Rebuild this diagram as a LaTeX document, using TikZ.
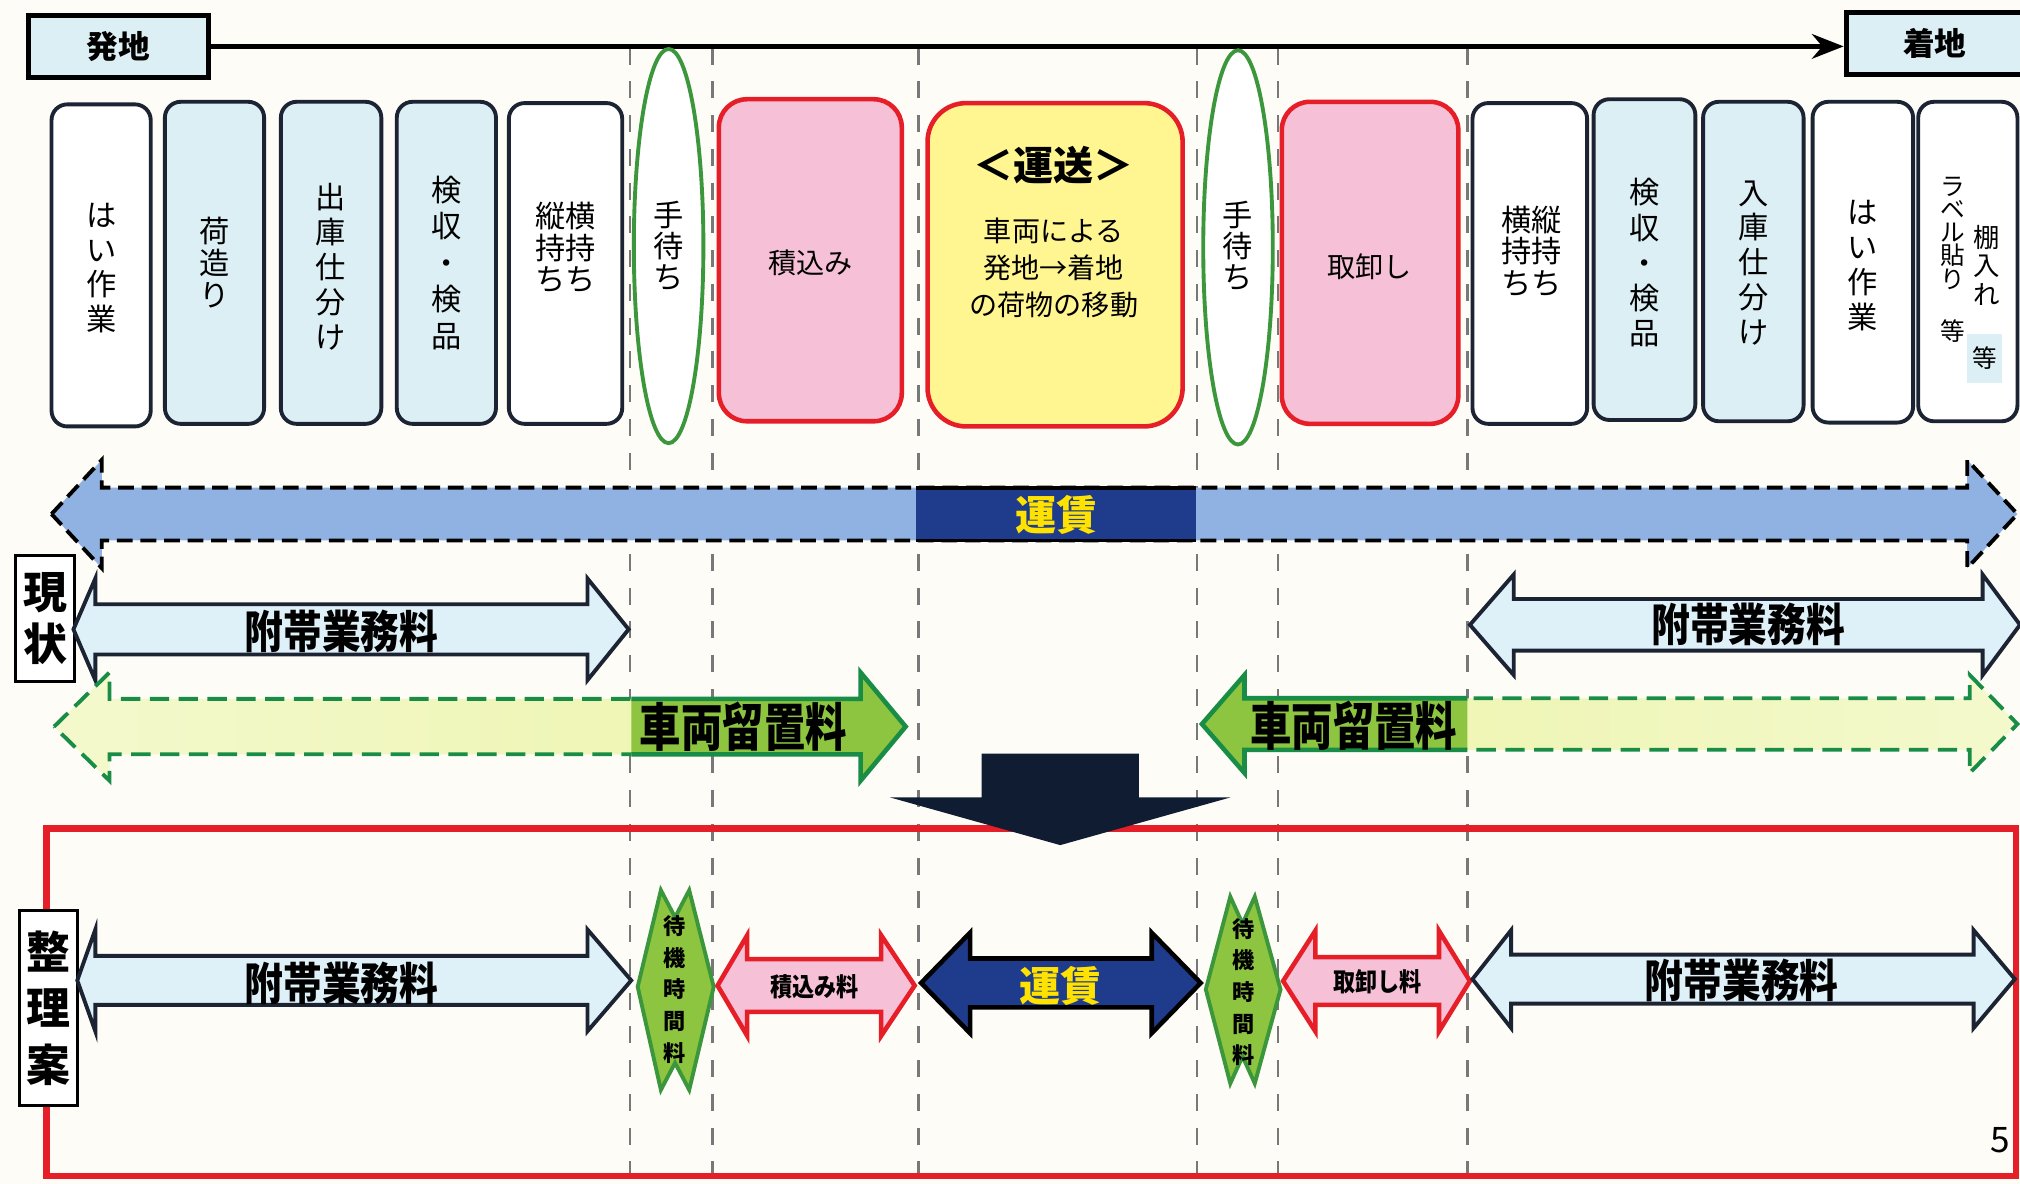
\documentclass[tikz,border=0pt]{standalone}
\usepackage{fontspec}
\newfontfamily\jp{Noto Sans CJK JP}
\newfontfamily\jpn[FakeStretch=0.86]{Noto Sans CJK JP}
\newfontfamily\jpm[FakeStretch=0.80]{Noto Sans CJK JP}
\usetikzlibrary{shapes.geometric}
\usetikzlibrary{arrows.meta}
\usepackage{xcolor}

\definecolor{paper}{RGB}{253,252,247}
\definecolor{boxnavy}{RGB}{28,36,52}
\definecolor{paleblue}{RGB}{220,239,245}
\definecolor{pinkfill}{RGB}{246,192,215}
\definecolor{redline}{RGB}{230,30,40}
\definecolor{yellowfill}{RGB}{255,246,145}
\definecolor{waitgreen}{RGB}{60,150,60}
\definecolor{farebar}{RGB}{143,178,226}
\definecolor{farenavy}{RGB}{31,60,140}
\definecolor{fareyellow}{RGB}{255,226,0}
\definecolor{stayfill}{RGB}{141,196,64}
\definecolor{stayline}{RGB}{25,140,70}
\definecolor{staypale}{RGB}{236,244,170}
\definecolor{stayfaint}{RGB}{244,249,205}
\definecolor{feefill}{RGB}{222,240,248}
\definecolor{downnavy}{RGB}{15,28,50}
\definecolor{gridgray}{RGB}{120,120,120}

\newcommand{\unitpx}{0.012883cm}
\newcommand{\tightlines}{\lineskiplimit=-5pt\relax}
% [options]{left tip}{right tip}{y}{half shaft}{half head}{left head}{right head}
\newcommand{\dblarrow}[8][]{%
  \path[#1] (#2,#4) -- ({#2+#7},{#4-#6}) -- ({#2+#7},{#4-#5}) -- ({#3-#8},{#4-#5})
    -- ({#3-#8},{#4-#6}) -- (#3,#4) -- ({#3-#8},{#4+#6}) -- ({#3-#8},{#4+#5})
    -- ({#2+#7},{#4+#5}) -- ({#2+#7},{#4+#6}) -- cycle;}

\begin{document}
\begin{tikzpicture}[x=0.012883cm, y=-0.012883cm,
  wbox/.style={draw=boxnavy, line width=1.1pt, rounded corners=4.5pt, fill=white, inner sep=0pt},
  bbox/.style={wbox, fill=paleblue},
  pbox/.style={draw=redline, line width=1.3pt, rounded corners=8pt, fill=pinkfill, inner sep=0pt},
  ybox/.style={pbox, fill=yellowfill, rounded corners=11pt},
  waitring/.style={ellipse, draw=waitgreen, line width=1.1pt, fill=white, inner sep=0pt,
    minimum width=54*\unitpx, minimum height=306*\unitpx},
  endbox/.style={draw=black, line width=1.4pt, fill=paleblue, inner sep=0pt,
    minimum width=140*\unitpx, minimum height=48*\unitpx, font=\jp\bfseries\fontsize{9}{11}\selectfont},
  vt/.style={align=center, inner sep=0pt, font=\jp\fontsize{8.6}{#1}\selectfont\tightlines},
  vt/.default=9.9,
  gridline/.style={gridgray, line width=0.7pt, dash pattern=on 4.8pt off 4.8pt},
  fee/.style={font=\jpn\bfseries\fontsize{12.8}{14}\selectfont, inner sep=0pt},
  stay/.style={font=\jpm\bfseries\fontsize{14.7}{16}\selectfont, inner sep=0pt},
  fare/.style={font=\jp\bfseries\fontsize{11.7}{13}\selectfont, text=fareyellow, inner sep=0pt},
  small/.style={font=\jpn\bfseries\fontsize{7.3}{9}\selectfont, inner sep=0pt},
  waitfee/.style={align=center, inner sep=0pt, font=\jp\bfseries\fontsize{6.3}{9}\selectfont},
  side/.style={draw=black, line width=0.9pt, fill=white, inner sep=0pt, align=center},
]
\useasboundingbox (0,0) rectangle (1568,919);
\fill[paper] (0,0) rectangle (1568,919);

% dashed guides
\foreach \gx in {489,553,713,929,992,1139}
  \draw[gridline] (\gx,37) -- (\gx,919);

% origin and destination
\node[endbox] (hatsu) at (92,36) {発地};
\node[endbox, minimum width=138*\unitpx] (chaku) at (1502,34) {着地};
\draw[line width=1.4pt, -{Stealth[length=9pt,width=7pt]}] (hatsu.east) -- (hatsu.east -| chaku.west);

% shipper side
\node[wbox, minimum width=77*\unitpx, minimum height=250*\unitpx] (hai1) at (78.5,206) {};
\node[vt] (hai1t) at (78.5,208) {は\\い\\作\\業};
\node[bbox, minimum width=77*\unitpx, minimum height=250*\unitpx] (nizu) at (166.5,204) {};
\node[vt=9.1] (nizut) at (166.5,204) {荷\\造\\り};
\node[bbox, minimum width=78*\unitpx, minimum height=250*\unitpx] (shuko) at (257,204) {};
\node[vt] (shukot) at (257,207) {出\\庫\\仕\\分\\け};
\node[bbox, minimum width=77*\unitpx, minimum height=250*\unitpx] (ken1) at (346.5,204) {};
\node[vt=10.4] (ken1t) at (346.5,204) {検\\収\\・\\検\\品};
\node[wbox, minimum width=88*\unitpx, minimum height=249*\unitpx] (moti1) at (439,204.5) {};
\node[vt=9] (moti1t) at (439,192) {縦横\\持持\\ちち};

\node[waitring] (wait1) at (519,191) {};
\node[vt=8.8] (wait1t) at (519,191) {手\\待\\ち};

\node[pbox, minimum width=142*\unitpx, minimum height=250*\unitpx] (load) at (629,202) {};
\node[inner sep=0pt, font=\jp\fontsize{8}{10}\selectfont] (loadt) at (629,204) {積込み};

\node[ybox, minimum width=198*\unitpx, minimum height=251*\unitpx] (unso) at (819,205.5) {};
\node[font=\jp\bfseries\fontsize{11.4}{13}\selectfont, inner sep=0pt] (unsot) at (818,128) {＜運送＞};
\node[align=center, inner sep=0pt, font=\jp\fontsize{8}{10.6}\selectfont] (unsod) at (818,208)
  {車両による\\発地→着地\\の荷物の移動};

\node[waitring] (wait2) at (961,192) {};
\node[vt=8.8] (wait2t) at (961,191) {手\\待\\ち};

\node[pbox, minimum width=137*\unitpx, minimum height=250*\unitpx] (unload) at (1063.5,204) {};
\node[inner sep=0pt, font=\jp\fontsize{8}{10}\selectfont] (unloadt) at (1063,207) {取卸し};

% consignee side
\node[wbox, minimum width=89*\unitpx, minimum height=249*\unitpx] (moti2) at (1187.5,204.5) {};
\node[vt=9] (moti2t) at (1189,195) {横縦\\持持\\ちち};
\node[bbox, minimum width=79*\unitpx, minimum height=249*\unitpx] (ken2) at (1276.5,201.5) {};
\node[vt=10] (ken2t) at (1276.5,204) {検\\収\\・\\検\\品};
\node[bbox, minimum width=78*\unitpx, minimum height=248*\unitpx] (nyuko) at (1361,203) {};
\node[vt] (nyukot) at (1361,204) {入\\庫\\仕\\分\\け};
\node[wbox, minimum width=78*\unitpx, minimum height=249*\unitpx] (hai2) at (1446,203.5) {};
\node[vt] (hai2t) at (1446,206) {は\\い\\作\\業};
\node[wbox, minimum width=77*\unitpx, minimum height=248*\unitpx] (tana) at (1527.5,203) {};
\node[align=center, inner sep=0pt, font=\jp\fontsize{7}{6.6}\selectfont\tightlines] (labelt) at (1516,181) {ラ\\ベ\\ル\\貼\\り};
\node[inner sep=0pt, font=\jp\fontsize{7}{8}\selectfont] (etc1) at (1516,257) {等};
\node[align=center, inner sep=0pt, font=\jp\fontsize{7.5}{8}\selectfont\tightlines] (tanat) at (1542,206) {棚\\入\\れ};
\node[fill=paleblue, inner sep=0pt, minimum width=27*\unitpx, minimum height=38*\unitpx,
  font=\jp\fontsize{7}{8}\selectfont] (etc2) at (1540.5,278) {等};

% current fares
\dblarrow[fill=farebar]{40}{1566}{399}{20.5}{42}{39}{39}
\dblarrow[draw=black, line width=1.1pt, dash pattern=on 4.5pt off 2.2pt]{40}{1566}{399}{20.5}{42}{39}{39}
\fill[farenavy] (711,378.5) rectangle (928,419.5);
\draw[black, line width=1.1pt] (711,378.5) -- (928,378.5) (711,419.5) -- (928,419.5);
\node[fare] (fare1) at (820,400) {運賃};

\node[side, minimum width=46*\unitpx, minimum height=98*\unitpx,
  font=\jp\bfseries\fontsize{12.5}{14.7}\selectfont] (now) at (35,480) {現\\状};

\dblarrow[fill=feefill, draw=boxnavy, line width=1.1pt]{57}{488}{488.5}{19.5}{39.5}{17}{32}
\node[fee] (fee1) at (265,490) {附帯業務料};
\dblarrow[fill=feefill, draw=boxnavy, line width=1.1pt]{1141}{1568}{485}{20}{39}{34}{29}
\node[fee] (fee2) at (1357,485) {附帯業務料};

% vehicle stay, shipper side
\dblarrow[left color=stayfaint, right color=staypale]{42}{703}{564}{21.5}{42}{43}{35}
\begin{scope}
  \clip (490,0) rectangle (1568,919);
  \dblarrow[fill=stayfill, draw=stayline, line width=1.3pt]{42}{703}{564}{21.5}{42}{43}{35}
\end{scope}
\begin{scope}
  \clip (0,0) rectangle (490,919);
  \dblarrow[draw=stayline, line width=1.1pt, dash pattern=on 5.5pt off 2.7pt]{42}{703}{564}{21.5}{42}{43}{35}
\end{scope}
\node[stay] (stay1) at (577,564) {車両留置料};

% vehicle stay, consignee side
\dblarrow[left color=staypale, right color=stayfaint]{933}{1566}{562}{20}{38}{33}{37}
\begin{scope}
  \clip (0,0) rectangle (1139,919);
  \dblarrow[fill=stayfill, draw=stayline, line width=1.3pt]{933}{1566}{562}{20}{38}{33}{37}
\end{scope}
\begin{scope}
  \clip (1139,0) rectangle (1568,919);
  \dblarrow[draw=stayline, line width=1.1pt, dash pattern=on 5.5pt off 2.7pt]{933}{1566}{562}{20}{38}{33}{37}
\end{scope}
\node[stay] (stay2) at (1051,563) {車両留置料};

% proposal
\draw[redline, line width=1.8pt] (36,643) rectangle (1565,913);
\fill[downnavy] (762,585) -- (884,585) -- (884,619) -- (955,619) -- (823,656) -- (691,619) -- (762,619) -- cycle;

\node[side, minimum width=45*\unitpx, minimum height=151*\unitpx,
  font=\jp\bfseries\fontsize{12.5}{16}\selectfont] (plan) at (37.5,782.5) {整\\理\\案};

\dblarrow[fill=feefill, draw=boxnavy, line width=1.1pt]{60}{490}{761}{19}{39.5}{14}{34}
\node[fee] (fee3) at (265,763) {附帯業務料};

\fill[stayfill, draw=waitgreen, line width=1.1pt] (495,766) -- (513,691) -- (524,712) -- (535,691)
  -- (554,766) -- (535,846) -- (524,825) -- (513,846) -- cycle;
\node[waitfee] (wait3) at (524,768) {待\\機\\時\\間\\料};

\dblarrow[fill=pinkfill, draw=redline, line width=1.3pt]{557}{710}{765}{20.5}{39}{23}{26}
\node[small] (loadfee) at (632,766) {積込み料};

\dblarrow[fill=farenavy, draw=black, line width=1.3pt]{715}{932}{763}{19}{39}{38}{38}
\node[fare] (fare2) at (823,765) {運賃};

\fill[stayfill, draw=waitgreen, line width=1.1pt] (936,768) -- (955,696) -- (964.5,717) -- (974,696)
  -- (994,768) -- (974,841) -- (964.5,820) -- (955,841) -- cycle;
\node[waitfee] (wait4) at (965,770) {待\\機\\時\\間\\料};

\dblarrow[fill=pinkfill, draw=redline, line width=1.3pt]{996}{1141}{761.5}{18.5}{39}{25}{24}
\node[small] (unloadfee) at (1069,762) {取卸し料};

\dblarrow[fill=feefill, draw=boxnavy, line width=1.1pt]{1143}{1564}{760}{19}{38}{30}{32}
\node[fee] (fee4) at (1352,761) {附帯業務料};

\node[inner sep=0pt, font=\jp\fontsize{10}{12}\selectfont] (pageno) at (1553,885) {5};
\end{tikzpicture}
\end{document}
